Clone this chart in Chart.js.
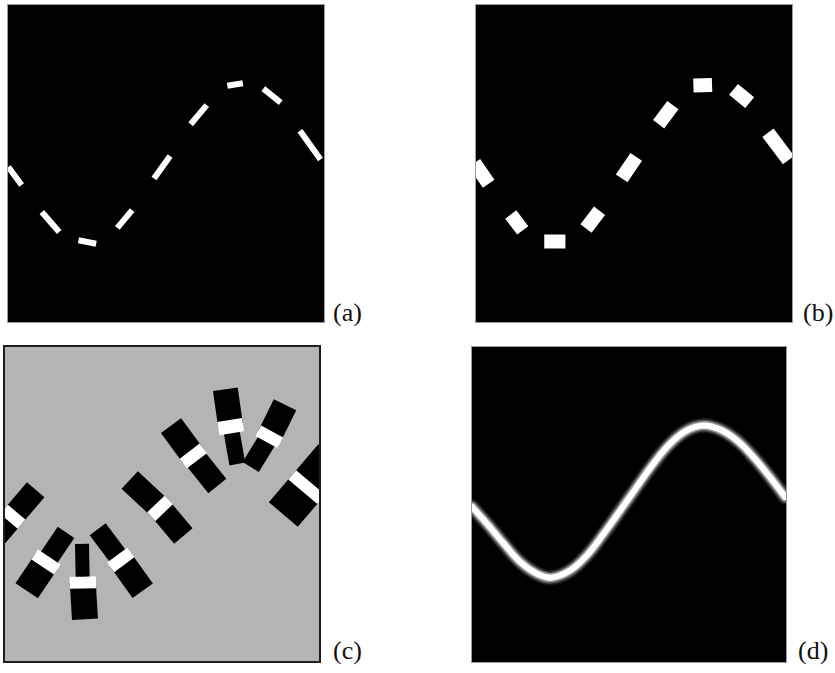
<!DOCTYPE html>
<html>
<head>
<meta charset="utf-8">
<script src="https://cdn.jsdelivr.net/npm/chart.js@4/dist/chart.umd.min.js"></script>
<style>
  body { margin: 0; background: #fff; width: 835px; height: 673px; position: relative; overflow: hidden; }
  .panel { position: absolute; }
  .panel canvas { display: block; }
  .lbl { position: absolute; font-family: "Liberation Serif", serif; font-size: 26px; line-height: 26px; color: #111; }
</style>
</head>
<body>
<div class="panel" style="left:7px;top:4px;border:1px solid #9a9a9a"><canvas id="ca" width="316" height="317" style="background:#000"></canvas></div>
<div class="panel" style="left:475px;top:4px;border:1px solid #9a9a9a"><canvas id="cb" width="316" height="317" style="background:#000"></canvas></div>
<div class="panel" style="left:3px;top:345px;border:2px solid #1e1e1e"><canvas id="cc" width="314" height="314" style="background:#b4b4b4"></canvas></div>
<div class="panel" style="left:471px;top:346px;border:1px solid #9a9a9a"><canvas id="cd" width="314" height="315" style="background:#000"></canvas></div>
<div class="lbl" style="left:333px;top:300px">(a)</div>
<div class="lbl" style="left:803px;top:300px">(b)</div>
<div class="lbl" style="left:333px;top:638px">(c)</div>
<div class="lbl" style="left:798px;top:638px">(d)</div>

<script>
// (a) thin dashes: [x0, y0, x1, y1] in panel units (0-100)
const dashesA = [
  [0.1, 48.9, 4.3, 43.2],
  [10.7, 34.7, 16.2, 28.4],
  [22.3, 25.8, 27.9, 24.7],
  [34.6, 29.7, 39.3, 35.3],
  [46.2, 45.3, 51.3, 52.4],
  [57.8, 62.4, 62.9, 68.4],
  [69.4, 74.5, 74.3, 75.3],
  [80.8, 73.6, 86.3, 69.2],
  [92.4, 60.3, 98.9, 51.3]
];

// (b) thick dashes
const dashesB = [
  [-0.5, 50.2, 4.0, 43.6],
  [11.0, 33.9, 14.8, 28.9],
  [21.6, 25.4, 28.3, 25.4],
  [34.8, 29.5, 39.1, 35.1],
  [46.1, 45.3, 50.7, 52.1],
  [57.8, 62.4, 62.3, 68.4],
  [68.8, 74.6, 74.7, 74.8],
  [81.5, 73.4, 86.6, 69.2],
  [92.4, 59.7, 98.9, 51.1]
];

// (c) blocks: [end1x, end1y, midx, midy, end2x, end2y]
const blocksC = [
  [9.78, 54.55, 2.45, 45.96, -4.87, 37.36],
  [19.43, 40.99, 13.06, 31.53, 6.91, 22.39],
  [24.52, 37.29, 24.76, 25.0, 25.48, 13.28],
  [29.52, 41.95, 36.85, 32.17, 43.86, 22.39],
  [39.72, 57.65, 49.37, 48.63, 56.79, 39.81],
  [52.87, 74.94, 59.97, 65.29, 67.62, 55.74],
  [70.17, 86.53, 71.89, 74.62, 73.99, 62.74],
  [89.18, 81.63, 84.16, 71.44, 78.25, 61.79],
  [104.37, 65.07, 96.09, 55.39, 88.64, 46.66]
];
// white bands across each block: [x0, y0, x1, y1]
const bandsC = [
  [3.69, 47.42, 1.21, 44.49],
  [14.11, 33.12, 12.01, 29.94],
  [24.68, 26.85, 24.84, 23.15],
  [35.72, 33.70, 37.98, 30.64],
  [48.05, 50.02, 50.69, 47.25],
  [58.81, 66.81, 61.13, 63.78],
  [71.53, 76.76, 72.23, 72.52],
  [85.08, 73.11, 83.24, 69.76],
  [97.33, 56.85, 94.85, 53.92]
];
// block thickness in px for each half (style only)
const blockWidths = [[23, 23], [20, 27], [14, 26], [20, 25], [24, 24], [25, 23], [25, 16], [25, 19], [38, 38]];

// (d) continuous curve
const curveX = [0, 4.8, 10.1, 15.4, 20.7, 25.5, 31.3, 36.6, 41.9, 47.2, 52.5, 57.8, 63.1, 68.4, 73.7, 79.0, 84.3, 89.6, 94.9, 99.7];
const curveY = [49.3, 43.9, 37.6, 31.7, 28.0, 26.8, 29.1, 33.9, 40.7, 48.1, 55.6, 63.0, 69.3, 73.5, 75.1, 73.8, 70.4, 65.1, 58.7, 52.4];

function segments(list) {
  const pts = [];
  list.forEach(s => {
    pts.push({ x: s[0], y: s[1] }, { x: s[2], y: s[3] }, { x: s[2], y: null });
  });
  return pts;
}

// order: lower numbers are drawn on top
function seg(color, width, data, order, extra) {
  return Object.assign({
    data: data, showLine: true, borderColor: color, backgroundColor: color,
    borderWidth: width, clip: 0, pointRadius: 0, pointHoverRadius: 0, spanGaps: false,
    order: order
  }, extra || {});
}

function makeChart(id, datasets) {
  return new Chart(document.getElementById(id), {
    type: 'scatter',
    data: { datasets: datasets },
    options: {
      responsive: false,
      animation: false,
      events: [],
      layout: { padding: 0 },
      plugins: { legend: { display: false }, tooltip: { enabled: false } },
      elements: { line: { borderCapStyle: 'butt', borderJoinStyle: 'miter' } },
      scales: {
        x: { type: 'linear', min: 0, max: 100, display: false },
        y: { type: 'linear', min: 0, max: 100, display: false }
      }
    }
  });
}

makeChart('ca', [seg('#ffffff', 6, segments(dashesA), 0)]);
makeChart('cb', [seg('#ffffff', 14, segments(dashesB), 0)]);

const cSets = [];
blocksC.forEach((b, i) => {
  cSets.push(seg('#000000', blockWidths[i][0], [{ x: b[0], y: b[1] }, { x: b[2], y: b[3] }], 2));
  cSets.push(seg('#000000', blockWidths[i][1], [{ x: b[2], y: b[3] }, { x: b[4], y: b[5] }], 2));
});
bandsC.forEach((w, i) => {
  const bw = Math.max(blockWidths[i][0], blockWidths[i][1]);
  cSets.push(seg('#ffffff', bw, [{ x: w[0], y: w[1] }, { x: w[2], y: w[3] }], 1));
});
makeChart('cc', cSets);

// soft-edged stroke: stacked translucent layers under a white core
const curve = curveX.map((x, i) => ({ x: x, y: curveY[i] }));
const round = { tension: 0.4, borderCapStyle: 'round', borderJoinStyle: 'round' };
makeChart('cd', [
  seg('#ffffff', 6, curve, 0, round),
  seg('rgba(255,255,255,0.45)', 9, curve, 1, round),
  seg('rgba(255,255,255,0.22)', 12, curve, 2, round),
  seg('rgba(255,255,255,0.10)', 15, curve, 3, round)
]);
</script>
</body>
</html>
